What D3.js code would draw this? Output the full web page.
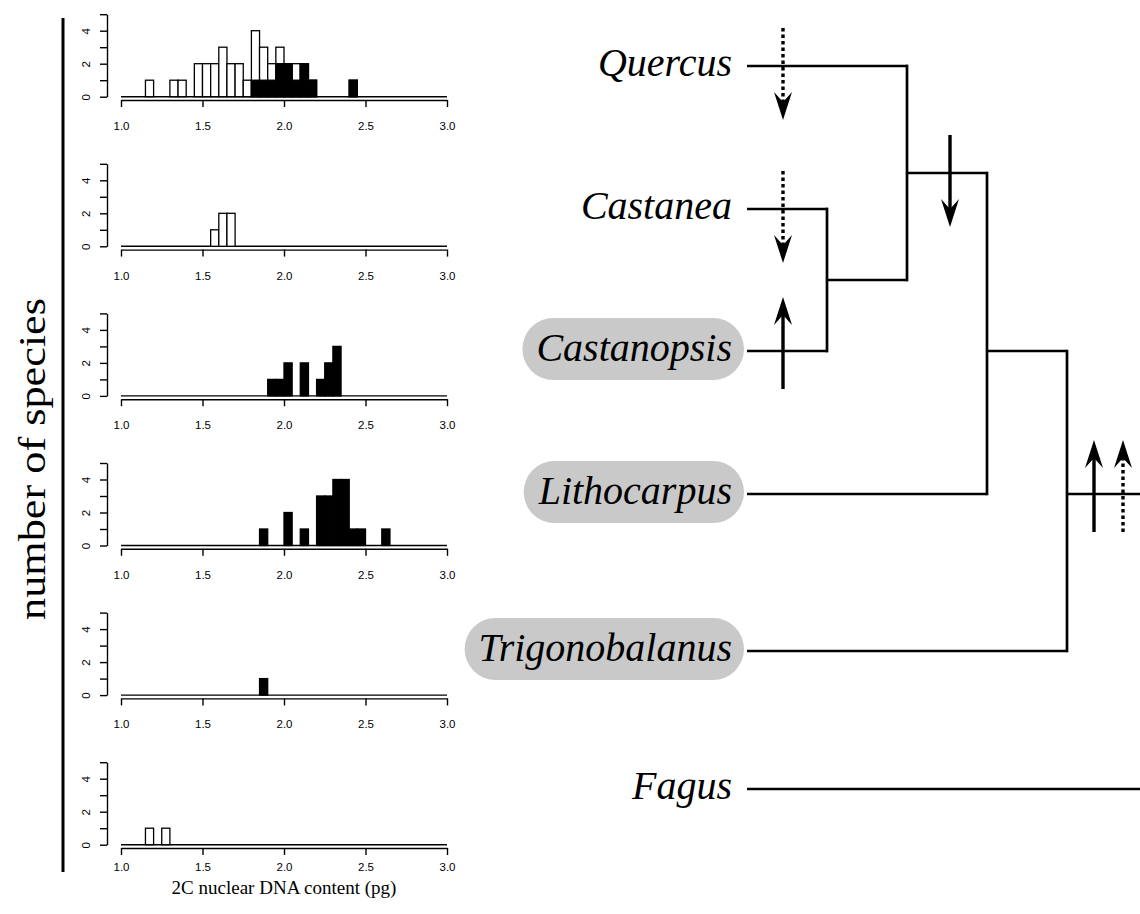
<!DOCTYPE html>
<html>
<head>
<meta charset="utf-8">
<script src="https://cdn.jsdelivr.net/npm/d3@7"></script>
<style>
  body { margin: 0; background: #fff; }
  svg { display: block; }
</style>
</head>
<body>
<svg id="fig" width="1140" height="914"></svg>
<script>
// genera, top to bottom
var genera = ["Quercus", "Castanea", "Castanopsis", "Lithocarpus", "Trigonobalanus", "Fagus"];

// histogram bins: [lower edge (pg), number of species], bin width 0.05
var binWidth = 0.05;
var histOpen = [
  [[1.15,1],[1.30,1],[1.35,1],[1.45,2],[1.50,2],[1.55,2],[1.60,3],[1.65,2],[1.70,2],[1.75,1],
   [1.80,4],[1.85,3],[1.90,2],[1.95,3],[2.00,2],[2.05,2],[2.10,2],[2.15,1],[2.40,1]],
  [[1.55,1],[1.60,2],[1.65,2]],
  [],
  [],
  [],
  [[1.15,1],[1.25,1]]
];
var histBlack = [
  [[1.80,1],[1.85,1],[1.90,1],[1.95,2],[2.00,2],[2.05,1],[2.10,2],[2.15,1],[2.40,1]],
  [],
  [[1.90,1],[1.95,1],[2.00,2],[2.10,2],[2.20,1],[2.25,2],[2.30,3]],
  [[1.85,1],[2.00,2],[2.10,1],[2.20,3],[2.25,3],[2.30,4],[2.35,4],[2.40,1],[2.45,1],[2.60,1]],
  [[1.85,1]],
  []
];
var xTicks = [1.0, 1.5, 2.0, 2.5, 3.0];
var yTicks = [0, 1, 2, 3, 4, 5];

// tree topology (rank = depth step from the tips)
var clades = [
  {id: "n1", children: ["Castanea", "Castanopsis"], rank: 1},
  {id: "n2", children: ["Quercus", "n1"], rank: 2},
  {id: "n3", children: ["n2", "Lithocarpus"], rank: 3},
  {id: "n4", children: ["n3", "Trigonobalanus"], rank: 4},
  {id: "root", children: ["n4", "Fagus"], rank: 5}
];
var highlighted = ["Castanopsis", "Lithocarpus", "Trigonobalanus"];

// genome size changes on branches
var changeBranch = ["Quercus", "Castanea", "Castanopsis", "n2", "n4", "n4"];
var changeDir    = ["down", "down", "up", "down", "up", "up"];
var changeType   = ["dotted", "dotted", "solid", "solid", "solid", "dotted"];

// ---- layout
var svg = d3.select("#fig");
var serif = "'Liberation Serif', 'Times New Roman', serif";
var sans = "'Liberation Sans', Arial, sans-serif";

var x = d3.scaleLinear().domain([1, 3]).range([121, 447]);
var panelBase = function (i) { return 96.7 + i * 149.6; };
var labelPad = [15, 15, 15, 15, 14, 8];

genera.forEach(function (g, i) {
  var base = panelBase(i);
  var y = d3.scaleLinear().domain([0, 5]).range([base, base - 82.5]);
  var p = svg.append("g");

  // zero-height bins of the histogram
  p.append("line")
    .attr("x1", x(1)).attr("x2", x(3))
    .attr("y1", y(0)).attr("y2", y(0))
    .attr("stroke", "#000").attr("stroke-width", 1.4);

  p.selectAll("rect.open").data(histOpen[i]).enter().append("rect")
    .attr("x", function (d) { return x(d[0]); })
    .attr("width", function (d) { return x(d[0] + binWidth) - x(d[0]); })
    .attr("y", function (d) { return y(d[1]); })
    .attr("height", function (d) { return y(0) - y(d[1]); })
    .attr("fill", "#fff").attr("stroke", "#000").attr("stroke-width", 1.3);

  p.selectAll("rect.black").data(histBlack[i]).enter().append("rect")
    .attr("x", function (d) { return x(d[0]); })
    .attr("width", function (d) { return x(d[0] + binWidth) - x(d[0]); })
    .attr("y", function (d) { return y(d[1]); })
    .attr("height", function (d) { return y(0) - y(d[1]); })
    .attr("fill", "#000").attr("stroke", "#000").attr("stroke-width", 1.3);

  var xa = p.append("g")
    .attr("transform", "translate(0," + y(-0.2) + ")")
    .call(d3.axisBottom(x).tickValues(xTicks).tickFormat(d3.format(".1f"))
      .tickSize(7).tickSizeOuter(0).tickPadding(labelPad[i]));
  xa.selectAll("path, line").attr("stroke", "#000").attr("stroke-width", 1.4);
  xa.selectAll("text").attr("font-family", sans).attr("font-size", 11.5).attr("fill", "#000");

  var ya = p.append("g")
    .attr("transform", "translate(107,0)")
    .call(d3.axisLeft(y).tickValues(yTicks)
      .tickFormat(function (d) { return d % 2 === 0 ? d : ""; })
      .tickSize(7).tickSizeOuter(0));
  ya.selectAll("path, line").attr("stroke", "#000").attr("stroke-width", 1.4);
  ya.selectAll("text")
    .attr("transform", "rotate(-90)")
    .attr("x", 0).attr("y", -17).attr("dy", 0)
    .attr("text-anchor", "middle")
    .attr("font-family", sans).attr("font-size", 11.5).attr("fill", "#000");
});

// shared y label and bar
svg.append("line")
  .attr("x1", 63).attr("x2", 63).attr("y1", 18).attr("y2", 872)
  .attr("stroke", "#000").attr("stroke-width", 3);
svg.append("text")
  .attr("transform", "translate(45,459) rotate(-90)")
  .attr("text-anchor", "middle")
  .attr("font-family", serif).attr("font-size", 37)
  .attr("textLength", 322).attr("lengthAdjust", "spacingAndGlyphs")
  .text("number of species");
svg.append("text")
  .attr("x", (x(1) + x(3)) / 2).attr("y", 894)
  .attr("text-anchor", "middle")
  .attr("font-family", serif).attr("font-size", 19)
  .text("2C nuclear DNA content (pg)");

// ---- tree
var tx = d3.scaleLinear().domain([0, 5]).range([747, 1147]);
var leafY = {Quercus: 66, Castanea: 209, Castanopsis: 351, Lithocarpus: 494, Trigonobalanus: 651, Fagus: 789};
var anchorTo = {n3: "Castanopsis", n4: "Lithocarpus"};

var nodeY = Object.assign({}, leafY), nodeRank = {};
genera.forEach(function (g) { nodeRank[g] = 0; });
clades.forEach(function (c) {
  nodeRank[c.id] = c.rank;
  nodeY[c.id] = anchorTo[c.id] ? leafY[anchorTo[c.id]] : d3.mean(c.children, function (k) { return nodeY[k]; });
});

var tree = svg.append("g").attr("stroke", "#000").attr("stroke-width", 2.7).attr("fill", "none");
clades.forEach(function (c) {
  var ys = c.children.map(function (k) { return nodeY[k]; });
  tree.append("line")
    .attr("x1", tx(c.rank)).attr("x2", tx(c.rank))
    .attr("y1", d3.min(ys) - 1.35).attr("y2", d3.max(ys) + 1.35);
  c.children.forEach(function (k) {
    tree.append("line")
      .attr("x1", tx(nodeRank[k])).attr("x2", tx(c.rank))
      .attr("y1", nodeY[k]).attr("y2", nodeY[k]);
  });
});

// tip labels
var labels = svg.append("g");
genera.forEach(function (g) {
  var t = labels.append("text")
    .attr("x", 732).attr("y", leafY[g] + 10)
    .attr("text-anchor", "end")
    .attr("font-family", serif).attr("font-style", "italic").attr("font-size", 40)
    .text(g);
  if (highlighted.indexOf(g) >= 0) {
    var bb = t.node().getBBox();
    labels.insert("rect", "text")
      .attr("x", bb.x - 14).attr("width", 744 - (bb.x - 14))
      .attr("y", leafY[g] - 33).attr("height", 62)
      .attr("rx", 31).attr("ry", 31)
      .attr("fill", "#c9c9c9");
  }
});

// arrows for genome size changes
var arrowDx = [36, 36, 36, 43, 27, 56];
var arrows = svg.append("g");
changeBranch.forEach(function (b, i) {
  var ax = tx(nodeRank[b]) + arrowDx[i];
  var by = nodeY[b];
  var s = changeDir[i] === "down" ? 1 : -1;
  var tail = by - s * 38, tip = by + s * 54;
  arrows.append("line")
    .attr("x1", ax).attr("x2", ax)
    .attr("y1", tail).attr("y2", tip - s * 14)
    .attr("stroke", "#000").attr("stroke-width", 3.4)
    .attr("stroke-dasharray", changeType[i] === "dotted" ? "3.5,3" : null);
  arrows.append("path")
    .attr("d", d3.line()([
      [ax, tip], [ax - 9, tip - s * 28], [ax, tip - s * 18], [ax + 9, tip - s * 28]
    ]) + "Z")
    .attr("fill", "#000");
});
</script>
</body>
</html>
